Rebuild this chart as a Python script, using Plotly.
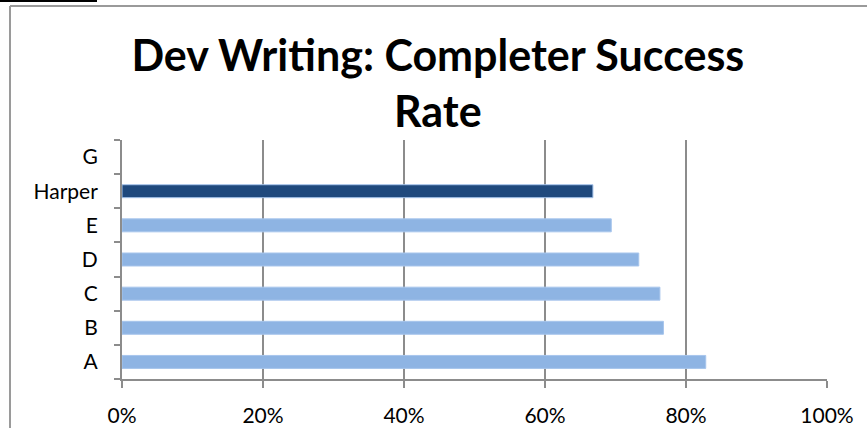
import plotly.graph_objects as go

# 数据：从左下到上的类别顺序 (A 在最下)
categories = ["A", "B", "C", "D", "E", "Harper", "G"]
success_rate = [0.828, 0.768, 0.763, 0.733, 0.694, 0.668, None]
bar_colors = ["#8EB4E3", "#8EB4E3", "#8EB4E3", "#8EB4E3", "#8EB4E3", "#1F497D", "#8EB4E3"]
x_ticks = [0, 0.2, 0.4, 0.6, 0.8, 1.0]
x_tick_labels = ["0%", "20%", "40%", "60%", "80%", "100%"]

W, H = 867, 428
L, R, T, B = 122, 40, 140, 49
PW, PH = W - L - R, H - T - B


def px_x(px):
    return (px - L) / PW


def px_y(py):
    return (H - B - py) / PH


fig = go.Figure()
fig.add_trace(go.Bar(
    y=categories, x=success_rate,
    orientation="h",
    marker=dict(color=bar_colors, line=dict(color="#A7C5EC", width=1)),
    hoverinfo="x+y",
))

grid = "#8C8C8C"
font = "Lato, 'Open Sans', sans-serif"

fig.update_layout(
    width=W, height=H,
    margin=dict(l=L, r=R, t=T, b=B, autoexpand=False),
    paper_bgcolor="white", plot_bgcolor="white",
    bargap=0.62,
    showlegend=False,
    font=dict(family=font, color="black", size=21),
    title=dict(
        text="<b>Dev Writing: Completer Success<br>Rate</b>",
        x=0.505, xanchor="center", y=0.835, yanchor="middle",
        font=dict(family=font, size=43, color="black"),
        automargin=False,
    ),
    xaxis=dict(
        range=[0, 1], tickvals=x_ticks, ticktext=x_tick_labels,
        showgrid=True, gridcolor=grid, gridwidth=2,
        showline=True, linecolor=grid, linewidth=2,
        ticks="outside", ticklen=7, tickcolor=grid, tickwidth=2,
        zeroline=False, fixedrange=True, automargin=False,
        ticklabelstandoff=10,
    ),
    yaxis=dict(
        type="category", categoryorder="array", categoryarray=categories,
        showgrid=False, showline=True, linecolor=grid, linewidth=2,
        ticks="outside", tickson="boundaries", ticklen=6, tickcolor=grid, tickwidth=2,
        ticklabelstandoff=18, fixedrange=True, automargin=False,
    ),
    shapes=[
        # 图表外框（上、左）
        dict(type="line", xref="paper", yref="paper",
             x0=px_x(10), x1=px_x(W + 5), y0=px_y(6), y1=px_y(6),
             line=dict(color="#9A9A9A", width=2)),
        dict(type="line", xref="paper", yref="paper",
             x0=px_x(10), x1=px_x(10), y0=px_y(6), y1=px_y(H + 5),
             line=dict(color="#9A9A9A", width=2)),
        # 左上角黑线
        dict(type="line", xref="paper", yref="paper",
             x0=px_x(0), x1=px_x(97), y0=px_y(1), y1=px_y(1),
             line=dict(color="black", width=2)),
    ],
)

# 去掉页面 body 默认的 8px 边距，让图表贴齐窗口左上角
fig.write_html("out.html", config={"displayModeBar": False},
               post_script="document.body.style.margin='0';")
